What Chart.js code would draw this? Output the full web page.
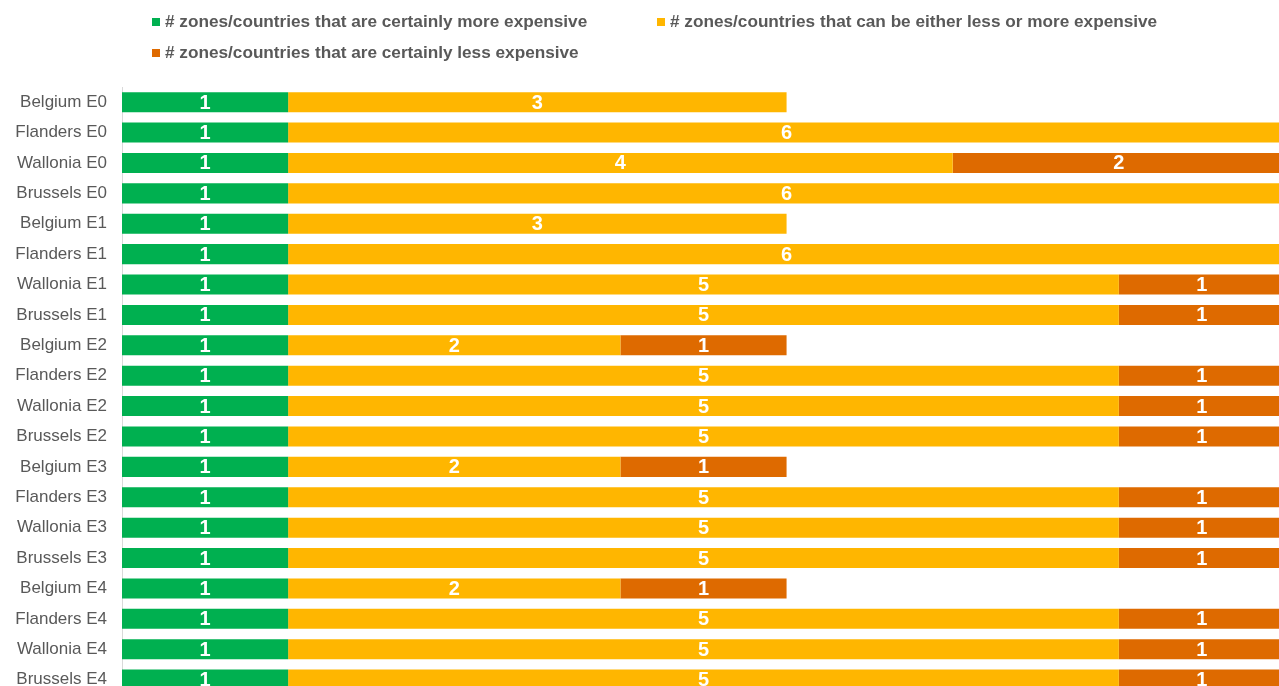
<!DOCTYPE html>
<html>
<head>
<meta charset="utf-8">
<script src="https://cdn.jsdelivr.net/npm/chart.js@4/dist/chart.umd.min.js"></script>
<style>
  html, body { margin: 0; padding: 0; background: #fff; overflow: hidden; }
  #wrap { position: relative; width: 1290px; height: 720px; }
  #c { position: absolute; left: 0; top: 0; }
  .leg { position: absolute; font-family: "Liberation Sans", Arial, sans-serif; font-size: 17.2px; font-weight: bold; color: #595959; white-space: nowrap; line-height: 20px; z-index: 2; }
  .leg i { display: inline-block; width: 8px; height: 8px; margin-right: 5px; vertical-align: 1px; }
</style>
</head>
<body>
<div id="wrap">
  <canvas id="c" width="1290" height="720"></canvas>
  <div class="leg" id="leg0" style="left:152px; top:11px;"></div>
  <div class="leg" id="leg1" style="left:657px; top:11px;"></div>
  <div class="leg" id="leg2" style="left:152px; top:42px;"></div>
</div>
<script>
const categories = [
  "Belgium E0","Flanders E0","Wallonia E0","Brussels E0",
  "Belgium E1","Flanders E1","Wallonia E1","Brussels E1",
  "Belgium E2","Flanders E2","Wallonia E2","Brussels E2",
  "Belgium E3","Flanders E3","Wallonia E3","Brussels E3",
  "Belgium E4","Flanders E4","Wallonia E4","Brussels E4"
];
const seriesNames = [
  "# zones/countries that are certainly more expensive",
  "# zones/countries that can be either less or more expensive",
  "# zones/countries that are certainly less expensive"
];
const moreExpensive = [1,1,1,1, 1,1,1,1, 1,1,1,1, 1,1,1,1, 1,1,1,1];
const eitherWay     = [3,6,4,6, 3,6,5,5, 2,5,5,5, 2,5,5,5, 2,5,5,5];
const lessExpensive = [0,0,2,0, 0,0,1,1, 1,1,1,1, 1,1,1,1, 1,1,1,1];
const colors = ["#00B050", "#FFB600", "#DE6A00"];

seriesNames.forEach((n, i) => {
  const el = document.getElementById("leg" + i);
  el.innerHTML = '<i style="background:' + colors[i] + '"></i>' + n;
});

const labelPlugin = {
  id: "segLabels",
  afterDatasetsDraw(chart) {
    const ctx = chart.ctx;
    ctx.save();
    ctx.fillStyle = "#ffffff";
    ctx.font = "bold 20px 'Liberation Sans', Arial, sans-serif";
    ctx.textAlign = "center";
    ctx.textBaseline = "middle";
    chart.data.datasets.forEach((ds, di) => {
      const meta = chart.getDatasetMeta(di);
      meta.data.forEach((el, i) => {
        const v = ds.data[i];
        if (!v) return;
        ctx.fillText(String(v), (el.x + el.base) / 2, el.y + 1);
      });
    });
    ctx.restore();
  }
};

new Chart(document.getElementById("c"), {
  type: "bar",
  data: {
    labels: categories,
    datasets: [
      { label: seriesNames[0], data: moreExpensive, backgroundColor: colors[0] },
      { label: seriesNames[1], data: eitherWay, backgroundColor: colors[1] },
      { label: seriesNames[2], data: lessExpensive, backgroundColor: colors[2] }
    ]
  },
  options: {
    indexAxis: "y",
    responsive: false,
    maintainAspectRatio: false,
    animation: false,
    devicePixelRatio: 1,
    categoryPercentage: 1.0,
    barPercentage: 0.66,
    layout: { padding: { top: 87, bottom: 6, left: 0, right: 5 } },
    plugins: { legend: { display: false }, tooltip: { enabled: false } },
    scales: {
      x: { stacked: true, min: 0, max: 7, display: false },
      y: {
        stacked: true,
        grid: { display: false, drawTicks: false },
        border: { display: true, color: "#D9D9D9", width: 1 },
        ticks: {
          color: "#595959",
          padding: 15,
          font: { family: "'Liberation Sans', Arial, sans-serif", size: 17 }
        },
        afterFit(scale) { scale.width = 122; }
      }
    }
  },
  plugins: [labelPlugin]
});
</script>
</body>
</html>
